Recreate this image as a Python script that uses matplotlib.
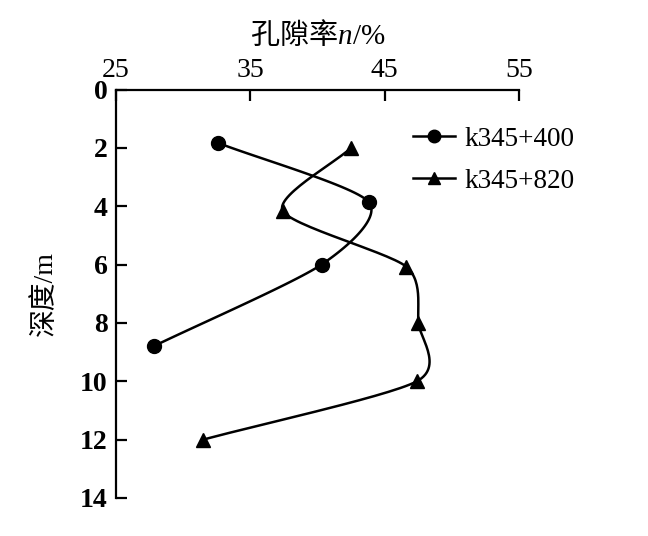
import numpy as np
import matplotlib
matplotlib.use('Agg')
import matplotlib.pyplot as plt
from matplotlib.lines import Line2D

plt.rcParams.update({
    'font.family': ['Liberation Serif', 'Noto Sans CJK SC'],
    'mathtext.fontset': 'custom',
    'mathtext.it': 'Liberation Serif:italic',
    'mathtext.sf': 'Liberation Serif',
    'mathtext.rm': 'Liberation Serif',
    'font.size': 20,
})

# data
depth_400 = [1.83, 3.85, 6.0, 8.8]
por_400 = [32.6, 43.8, 40.3, 27.8]
depth_820 = [2.0, 4.15, 6.07, 8.0, 10.0, 12.0]
por_820 = [42.5, 37.4, 46.6, 47.5, 47.4, 31.5]
labels = ['k345+400', 'k345+820']
x_ticks = [25, 35, 45, 55]
y_ticks = [0, 2, 4, 6, 8, 10, 12, 14]


def smooth(ax, xs, ys, n=30, k=0.75):
    # Catmull-Rom style curve through the points, in display space
    pts = ax.transData.transform(np.column_stack([xs, ys]))
    p = np.vstack([2 * pts[0] - pts[1], pts, 2 * pts[-1] - pts[-2]])
    out = []
    t = np.linspace(0, 1, n)[:, None]
    for i in range(1, len(p) - 2):
        p1, p2 = p[i], p[i + 1]
        m1 = k * 0.5 * (p[i + 1] - p[i - 1])
        m2 = k * 0.5 * (p[i + 2] - p[i])
        h00 = 2 * t**3 - 3 * t**2 + 1
        h10 = t**3 - 2 * t**2 + t
        h01 = -2 * t**3 + 3 * t**2
        h11 = t**3 - t**2
        out.append(h00 * p1 + h10 * m1 + h01 * p2 + h11 * m2)
    out = np.vstack(out)
    back = ax.transData.inverted().transform(out)
    return back[:, 0], back[:, 1]


fig = plt.figure(figsize=(6.48, 5.36), dpi=100)
ax = fig.add_axes([0.179, 0.071, 0.622, 0.762])
ax.set_xlim(25, 55)
ax.set_ylim(14, 0)

ax.spines['right'].set_visible(False)
ax.spines['bottom'].set_visible(False)
for s in ['top', 'left']:
    ax.spines[s].set_linewidth(1.6)

ax.xaxis.set_ticks_position('top')
ax.xaxis.set_label_position('top')
ax.set_xticks(x_ticks)
ax.set_yticks(y_ticks)
ax.tick_params(axis='both', direction='in', length=8, width=1.6, labelsize=20)
ax.tick_params(axis='x', pad=5)
ax.tick_params(axis='y', pad=6)
for t in ax.get_yticklabels():
    t.set_fontweight('bold')

for xs, ys, mk in [(por_400, depth_400, 'o'), (por_820, depth_820, '^')]:
    sx, sy = smooth(ax, xs, ys)
    ax.plot(sx, sy, color='black', lw=1.8, zorder=2)
    ax.plot(xs, ys, linestyle='none', marker=mk, ms=10, color='black', zorder=3)

handles = [
    Line2D([0], [0], color='black', lw=1.8, marker='o', ms=9, label=labels[0]),
    Line2D([0], [0], color='black', lw=1.8, marker='^', ms=9, label=labels[1]),
]
ax.legend(handles=handles, loc='upper left', bbox_to_anchor=(0.71, 0.935),
          frameon=False, fontsize=19.5, handlelength=1.55, handletextpad=0.35,
          labelspacing=0.62, borderaxespad=0)

ax.set_xlabel('孔隙率$n\\mathsf{/\\%}$', fontsize=21, labelpad=10,
              family='Noto Sans CJK SC')
ax.set_ylabel('深度/m', fontsize=20, labelpad=16)

fig.savefig('out.png', dpi=100, facecolor='white')
